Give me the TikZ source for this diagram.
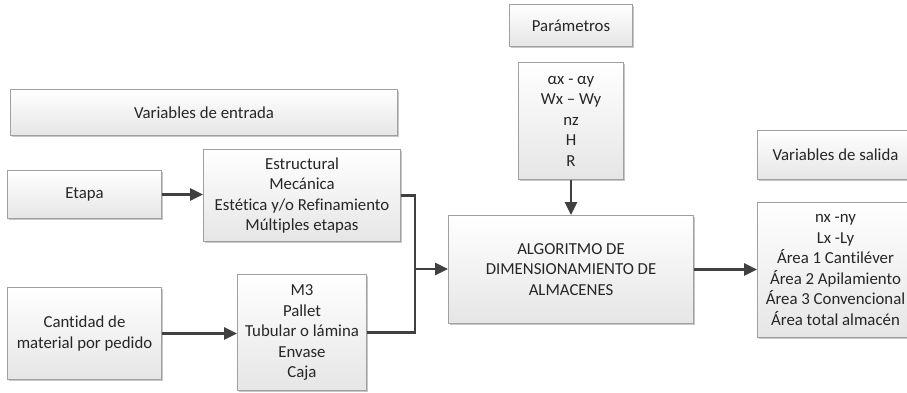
\documentclass[tikz,border=0pt]{standalone}
\usepackage{fontspec}
\setmainfont{Carlito}[Ligatures=CommonOff]
\usetikzlibrary{arrows.meta,shadows,calc}
\definecolor{txt}{HTML}{262626}
\definecolor{edge}{HTML}{A0A0A0}
\definecolor{arr}{HTML}{404040}
\tikzset{
  box/.style={draw=edge, line width=1pt, top color=white, bottom color=black!10,
    anchor=north west, align=center, text=txt, inner sep=0pt,
    font=\fontsize{16.8}{20.5}\selectfont,
    drop shadow={opacity=0.22, shadow xshift=1.8pt, shadow yshift=-1.8pt, fill=black}},
  conn/.style={draw=arr, line width=2.6pt},
  arrowc/.style={conn, -{Triangle[length=13pt,width=12pt]}}
}
\begin{document}
\begin{tikzpicture}[x=1pt,y=-1pt]
\useasboundingbox (0,0) rectangle (907,393);
\clip (0,0) rectangle (907,393);
\node[box, minimum width=387pt, minimum height=46pt] (vin) at (10,89) {Variables de entrada};
\node[box, minimum width=154pt, minimum height=48pt] (etapa) at (7,170) {Etapa};
\node[box, minimum width=197pt, minimum height=92pt] (estr) at (203,149) {Estructural\\Mecánica\\Estética y/o Refinamiento\\Múltiples etapas};
\node[box, minimum width=154pt, minimum height=92pt] (cant) at (7,287) {Cantidad de\\material por pedido};
\node[box, minimum width=129pt, minimum height=116pt] (m3) at (237,274) {M3\\Pallet\\Tubular o lámina\\Envase\\Caja};
\node[box, minimum width=123pt, minimum height=42pt] (param) at (509,4) {Parámetros};
\node[box, minimum width=105pt, minimum height=117pt] (plist) at (518,62) {αx - αy\\Wx – Wy\\nz\\H\\R};
\node[box, minimum width=245pt, minimum height=108pt] (alg) at (448,215) {ALGORITMO DE\\DIMENSIONAMIENTO DE\\ALMACENES};
\node[box, minimum width=156pt, minimum height=49pt] (vsal) at (757,130) {Variables de salida};
\node[box, minimum width=156pt, minimum height=135pt] (out) at (757,202) {nx -ny\\Lx -Ly\\Área 1 Cantiléver\\Área 2 Apilamiento\\Área 3 Convencional\\Área total almacén};
\coordinate (j) at (415,269);
\draw[arrowc] (etapa.east) -- (etapa.east -| estr.west);
\draw[arrowc] (cant.east) -- (cant.east -| m3.west);
\draw[conn] (estr.east) -| (j) |- (m3.east);
\draw[arrowc] (j) -- (j -| alg.west);
\draw[arrowc] (plist.south) -- (alg.north);
\draw[arrowc] (alg.east) -- (alg.east -| out.west);
\end{tikzpicture}
\end{document}
